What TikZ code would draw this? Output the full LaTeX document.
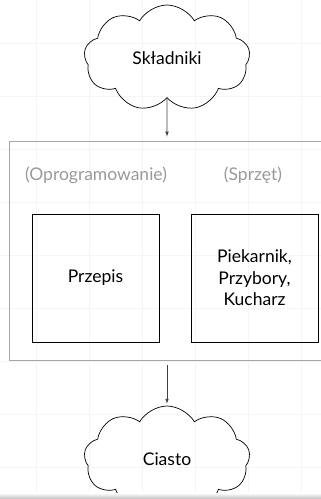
\documentclass[tikz,border=0pt]{standalone}
\usepackage{fontspec}
\setmainfont{Lato}
\usetikzlibrary{shapes.symbols}

\begin{document}
\begin{tikzpicture}[x=1pt, y=-1pt, font=\fontsize{17.5}{21.5}\selectfont,
  {every node/.append style}={align=center},
  chmura/.style={cloud, cloud puffs=9, cloud puff arc=120, aspect=1.5, draw, line width=0.7pt,
    minimum width=166pt, minimum height=106pt, inner sep=0pt},
  pudlo/.style={rectangle, draw, line width=0.8pt, minimum width=127pt, minimum height=128pt},
  podpis/.style={text=black!40}]

\useasboundingbox (0,0) rectangle (321,499);
\clip (0,0) rectangle (321,499);

% faint grid
\foreach \x in {36,89,...,301} \draw [black!4, line width=0.8pt] (\x,0) -- (\x,499);
\foreach \y in {43,96,...,470} \draw [black!4, line width=0.8pt] (0,\y) -- (321,\y);

\node [chmura] (skladniki) at (167, 58) {Składniki};

\node [rectangle, draw=black!35, line width=0.9pt, minimum width=316pt, minimum height=219pt] (komputer) at (167, 250.5) {};
\node [podpis] (oprog) at (96, 175) {(Oprogramowanie)};
\node [podpis] (sprzet) at (253, 175) {(Sprzęt)};

\node [pudlo] (przepis) at (95.5, 278) {Przepis};
\node [pudlo] (narzedzia) at (254.5, 278) {Piekarnik,\\Przybory,\\Kucharz};

\node [chmura] (ciasto) at (167, 459) {Ciasto};

\draw [-latex, black!75, line width=0.7pt, shorten >=4pt] (skladniki) to (komputer);
\draw [-latex, black!75, line width=0.7pt, shorten <=5pt, shorten >=2pt] (komputer) to (ciasto);

% bottom edge shadow
\shade [top color=white, bottom color=black!25] (0,493) rectangle (321,499);

\end{tikzpicture}
\end{document}
